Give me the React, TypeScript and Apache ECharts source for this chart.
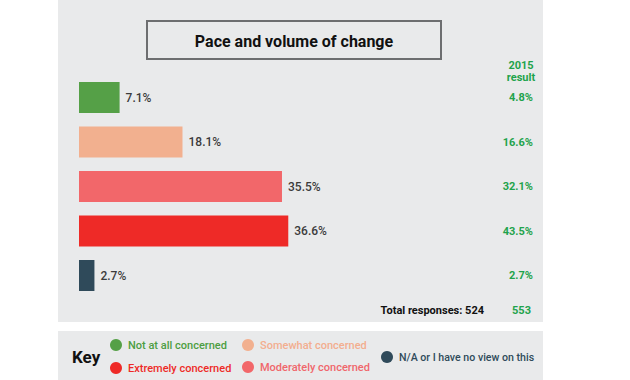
import React, { useEffect, useRef } from "react";
import * as echarts from "echarts";

const categories = [
  "Not at all concerned",
  "Somewhat concerned",
  "Moderately concerned",
  "Extremely concerned",
  "N/A or I have no view on this",
];
const values2017 = [7.1, 18.1, 35.5, 36.6, 2.7];
const values2015 = [4.8, 16.6, 32.1, 43.5, 2.7];
const barColors = ["#55a047", "#f2b08f", "#f2676a", "#ee2a27", "#2f4a5a"];
const totalNow = 524;
const total2015 = 553;
const title = "Pace and volume of change";

// legend layout order (two rows)
const keyItems = [
  { idx: 0, x: 116, y: 345 },
  { idx: 3, x: 116, y: 368 },
  { idx: 1, x: 248, y: 345 },
  { idx: 2, x: 248, y: 367 },
  { idx: 4, x: 387, y: 357 },
];
const keyTextColors = ["#4d9e42", "#f3ae8f", "#f0676b", "#ee2a27", "#2f4a5a"];

const FONT = "Roboto, 'Noto Sans', sans-serif";
const GREEN = "#1fa34c";

export default function App() {
  const ref = useRef<HTMLDivElement>(null);
  useEffect(() => {
    if (!ref.current) return;
    const chart = echarts.init(ref.current, null, { renderer: "svg" });
    const graphics: any[] = [
      {
        type: "rect",
        z: -10,
        shape: { x: 58, y: 0, width: 485, height: 322 },
        style: { fill: "#e9eaeb" },
        silent: true,
      },
      {
        type: "rect",
        z: -10,
        shape: { x: 58, y: 331, width: 485, height: 49 },
        style: { fill: "#e9eaeb" },
        silent: true,
      },
      {
        type: "rect",
        shape: { x: 147, y: 21, width: 294, height: 38 },
        style: { fill: "none", stroke: "#6d6e70", lineWidth: 2 },
      },
      {
        type: "text",
        x: 294,
        y: 41,
        style: {
          text: title,
          fill: "#111111",
          font: `bold 16px ${FONT}`,
          align: "center",
          verticalAlign: "middle",
        },
      },
      {
        type: "text",
        x: 521,
        y: 71,
        style: {
          text: "2015\nresult",
          fill: GREEN,
          font: `bold 11px ${FONT}`,
          align: "center",
          verticalAlign: "middle",
          lineHeight: 12,
        },
      },
      {
        type: "text",
        x: 484,
        y: 310,
        style: {
          text: `Total responses: ${totalNow}`,
          fill: "#111111",
          font: `bold 11px ${FONT}`,
          align: "right",
          verticalAlign: "middle",
        },
      },
      {
        type: "text",
        x: 531,
        y: 310,
        style: {
          text: String(total2015),
          fill: GREEN,
          font: `bold 11px ${FONT}`,
          align: "right",
          verticalAlign: "middle",
        },
      },
      {
        type: "text",
        x: 72,
        y: 357,
        style: {
          text: "Key",
          fill: "#111111",
          font: `bold 17px ${FONT}`,
          align: "left",
          verticalAlign: "middle",
        },
      },
    ];
    keyItems.forEach((k) => {
      graphics.push({
        type: "circle",
        shape: { cx: k.x, cy: k.y, r: 6 },
        style: { fill: barColors[k.idx] },
      });
      graphics.push({
        type: "text",
        x: k.x + 12,
        y: k.y,
        style: {
          text: categories[k.idx],
          fill: keyTextColors[k.idx],
          font: `500 ${k.idx === 4 ? 10.6 : 11}px ${FONT}`,
          align: "left",
          verticalAlign: "middle",
        },
      });
    });

    chart.setOption({
      animation: false,
      backgroundColor: "#ffffff",
      grid: { left: 79, right: 97, top: 75.25, height: 222.5, containLabel: false },
      xAxis: {
        type: "value",
        min: 0,
        max: 79.4,
        show: false,
      },
      yAxis: [
        {
          type: "category",
          data: categories,
          inverse: true,
          show: false,
        },
        {
          type: "category",
          data: values2015.map((v) => v.toFixed(1) + "%"),
          inverse: true,
          position: "right",
          axisLine: { show: false },
          axisTick: { show: false },
          axisLabel: {
            inside: true,
            margin: 0,
            color: GREEN,
            fontFamily: FONT,
            fontWeight: "bold",
            fontSize: 11,
            align: "right",
            verticalAlign: "middle",
            padding: [4, 0, 0, 0],
          },
        },
      ],
      series: [
        {
          type: "bar",
          yAxisIndex: 0,
          barWidth: 31,
          data: values2017.map((v, i) => ({
            value: v,
            itemStyle: { color: barColors[i] },
          })),
          label: {
            show: true,
            position: "right",
            distance: 6,
            formatter: (p: any) => p.value.toFixed(1) + "%",
            color: "#3b3b3b",
            fontFamily: FONT,
            fontWeight: 500,
            fontSize: 12,
          },
        },
      ],
      graphic: graphics,
    });
    return () => chart.dispose();
  }, []);
  return (
    <div
      ref={ref}
      style={{ position: "fixed", left: 0, top: 0, width: 630, height: 380 }}
    />
  );
}
